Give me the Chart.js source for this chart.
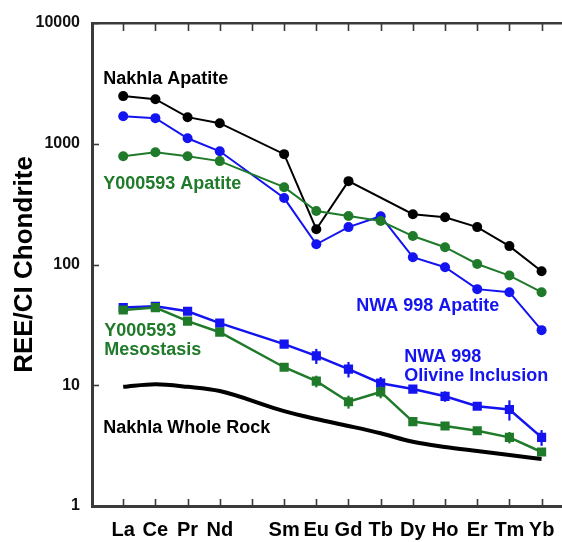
<!DOCTYPE html>
<html><head><meta charset="utf-8">
<script src="https://cdn.jsdelivr.net/npm/chart.js@4/dist/chart.umd.min.js"></script>
<style>html,body{margin:0;padding:0;background:#fff;overflow:hidden;width:562px;height:542px}</style>
</head><body><canvas id="c" width="569" height="542"></canvas>
<script>
// ---------- data ----------
const elements   = ['La','Ce','Pr','Nd','Pm','Sm','Eu','Gd','Tb','Dy','Ho','Er','Tm','Yb'];
const tickLabels = ['La','Ce','Pr','Nd','','Sm','Eu','Gd','Tb','Dy','Ho','Er','Tm','Yb'];
const yTicks = [1, 10, 100, 1000, 10000];
const nakhlaApatite = [2480, 2340, 1660, 1480, null, 820, 196, 490, null, 261, 246, 204, 142, 88];
const nwaApatite    = [1690, 1630, 1110, 866, null, 355, 147, 204, 251, 115, 95, 62.5, 59, 28.6];
const y593Apatite   = [789, 851, 789, 718, null, 437, 277, 252, 229, 172, 139, 101, 81, 59];
const nwaOlivine    = [44, 45, 41, 32.7, null, 21.9, 17.5, 13.6, 10.4, 9.3, 8.1, 6.7, 6.3, 3.7];
const nwaOlivineErr = [0, 0, 0, 0, null, 1.2, 2.5, 2.0, 1.3, 0, 0.8, 0, 1.2, 0.55];
const y593Meso      = [42, 44, 34, 27.5, null, 14.1, 10.8, 7.3, 8.8, 5.0, 4.6, 4.2, 3.7, 2.8];
const y593MesoErr   = [0, 0, 0, 0, null, 0, 1.2, 0.9, 1.0, 0, 0, 0, 0.4, 0];
const nakhlaWR      = [9.7, 10.2, 9.7, 8.95, null, 6.1, 5.25, 4.6, 4.0, 3.4, 3.08, 2.85, 2.64, 2.45];

const BLACK = '#000000', BLUE = '#1414f0', GREEN = '#1f7a2a', AXIS = '#3a3a3a';
const FONT = '"Liberation Sans", Arial, Helvetica, sans-serif';

const pts = arr => arr.map((v, i) => ({x: i, y: v}));

const annotations = [
  {lines: ['Nakhla Apatite'], color: BLACK, x: -0.62, y: 3427},
  {lines: ['Y000593 Apatite'], color: GREEN, x: -0.62, y: 463},
  {lines: ['NWA 998 Apatite'], color: BLUE, x: 7.24, y: 45.3},
  {lines: ['NWA 998', 'Olivine Inclusion'], color: BLUE, x: 8.73, y: 17.1},
  {lines: ['Y000593', 'Mesostasis'], color: GREEN, x: -0.59, y: 28.1},
  {lines: ['Nakhla Whole Rock'], color: BLACK, x: -0.62, y: 4.42}
];
const errorSets = [
  {vals: nwaOlivine, err: nwaOlivineErr, color: BLUE},
  {vals: y593Meso, err: y593MesoErr, color: GREEN}
];

const decorPlugin = {
  id: 'decor',
  afterDatasetsDraw(chart) {
    const ctx = chart.ctx, xs = chart.scales.x, ys = chart.scales.y, a = chart.chartArea;
    ctx.save();
    // error bars
    errorSets.forEach(s => {
      ctx.strokeStyle = s.color; ctx.lineWidth = 2.2;
      s.vals.forEach((v, i) => {
        const e = s.err[i];
        if (v == null || !e) return;
        const x = xs.getPixelForValue(i);
        ctx.beginPath();
        ctx.moveTo(x, ys.getPixelForValue(v + e));
        ctx.lineTo(x, ys.getPixelForValue(v - e));
        ctx.stroke();
      });
    });
    // inward ticks
    ctx.strokeStyle = AXIS; ctx.lineWidth = 1.6;
    elements.forEach((e, i) => {
      const x = Math.round(xs.getPixelForValue(i)) + 0.5;
      ctx.beginPath();
      ctx.moveTo(x, a.bottom); ctx.lineTo(x, a.bottom - 7);
      ctx.moveTo(x, a.top); ctx.lineTo(x, a.top + 8);
      ctx.stroke();
    });
    yTicks.forEach(v => {
      const y = Math.round(ys.getPixelForValue(v)) + 0.5;
      ctx.beginPath();
      ctx.moveTo(a.left, y); ctx.lineTo(a.left + 7, y);
      ctx.stroke();
    });
    // text labels
    ctx.font = 'bold 18px ' + FONT;
    ctx.textAlign = 'left'; ctx.textBaseline = 'middle';
    annotations.forEach(t => {
      ctx.fillStyle = t.color;
      const x = xs.getPixelForValue(t.x), y = ys.getPixelForValue(t.y);
      t.lines.forEach((l, k) => ctx.fillText(l, x, y + k * 19));
    });
    ctx.restore();
  }
};

const common = {fill: false, spanGaps: true, tension: 0};
new Chart(document.getElementById('c'), {
  type: 'line',
  data: {
    datasets: [
      {...common, label: 'Nakhla Whole Rock', data: pts(nakhlaWR), borderColor: BLACK, borderWidth: 4, pointRadius: 0, cubicInterpolationMode: 'monotone'},
      {...common, label: 'Y000593 Mesostasis', data: pts(y593Meso), borderColor: GREEN, backgroundColor: GREEN, borderWidth: 2.5, pointStyle: 'rect', pointRadius: 6.5, pointBorderWidth: 0},
      {...common, label: 'NWA 998 Olivine Inclusion', data: pts(nwaOlivine), borderColor: BLUE, backgroundColor: BLUE, borderWidth: 2.5, pointStyle: 'rect', pointRadius: 6.5, pointBorderWidth: 0},
      {...common, label: 'Y000593 Apatite', data: pts(y593Apatite), borderColor: GREEN, backgroundColor: GREEN, borderWidth: 2, pointRadius: 5, pointBorderWidth: 0},
      {...common, label: 'NWA 998 Apatite', data: pts(nwaApatite), borderColor: BLUE, backgroundColor: BLUE, borderWidth: 2, pointRadius: 5, pointBorderWidth: 0},
      {...common, label: 'Nakhla Apatite', data: pts(nakhlaApatite), borderColor: BLACK, backgroundColor: BLACK, borderWidth: 2, pointRadius: 5, pointBorderWidth: 0}
    ]
  },
  options: {
    responsive: false, animation: false,
    layout: {padding: 0},
    plugins: {legend: {display: false}, tooltip: {enabled: false}},
    scales: {
      x: {
        type: 'linear', position: 'bottom', min: -0.97, max: 13.65,
        afterBuildTicks: s => { s.ticks = elements.map((e, i) => ({value: i})); },
        ticks: {callback: v => tickLabels[v] ?? '', autoSkip: false, maxRotation: 0, color: '#000',
                padding: 12, font: {family: FONT, weight: 'bold', size: 20}},
        grid: {display: false, drawTicks: false},
        border: {display: true, color: AXIS, width: 3},
        afterFit: s => { s.height = 36; }
      },
      x2: {
        type: 'linear', position: 'top', min: -0.97, max: 13.65,
        ticks: {display: false}, grid: {display: false, drawTicks: false},
        border: {display: true, color: AXIS, width: 2.5},
        afterFit: s => { s.height = 23; }
      },
      y: {
        type: 'logarithmic', min: 1, max: 10000,
        afterBuildTicks: s => { s.ticks = yTicks.map(v => ({value: v})); },
        ticks: {callback: v => String(v), color: '#111', padding: 12, font: {family: FONT, weight: 'bold', size: 16}},
        grid: {display: false, drawTicks: false},
        border: {display: true, color: AXIS, width: 3},
        title: {display: true, text: 'REE/CI Chondrite', color: '#000', padding: {top: 9, bottom: 0},
                font: {family: FONT, weight: 'bold', size: 26}},
        afterFit: s => { s.width = 92; }
      }
    }
  },
  plugins: [decorPlugin]
});
</script></body></html>
